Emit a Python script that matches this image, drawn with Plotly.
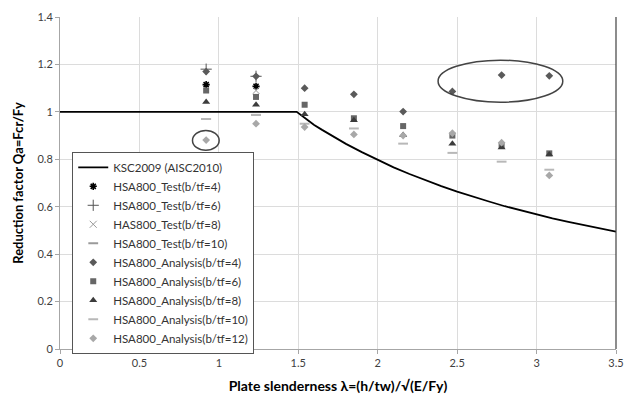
import plotly.graph_objects as go

# Design curve KSC2009 (AISC2010)
curve_x = [0, 1.49, 1.55, 1.6, 1.65, 1.7, 1.8, 1.9, 2.0, 2.1, 2.2, 2.3, 2.4, 2.5, 2.6, 2.7, 2.8, 2.9, 3.0, 3.1, 3.2, 3.3, 3.4, 3.5]
curve_y = [1.0, 1.0, 0.970, 0.945, 0.924, 0.904, 0.865, 0.830, 0.797, 0.766, 0.738, 0.711, 0.687, 0.664, 0.642, 0.622, 0.602, 0.584, 0.567, 0.551, 0.536, 0.522, 0.508, 0.495]

# Test results
test4_x = [0.92, 1.234]
test4_y = [1.115, 1.108]
test6_x = [0.92, 1.234]
test6_y = [1.18, 1.15]
test8_x = [1.234]
test8_y = [1.09]
test10_x = [0.92, 1.234]
test10_y = [0.97, 0.987]

# Analysis results
ana_x = [0.92, 1.234, 1.54, 1.85, 2.16, 2.47, 2.78, 3.08]
ana4_y = [1.17, 1.15, 1.10, 1.074, 1.001, 1.086, 1.155, 1.152]
ana6_y = [1.09, 1.063, 1.03, 0.973, 0.94, 0.90, 0.856, 0.825]
ana8_y = [1.042, 1.03, 0.99, 0.965, 0.902, 0.866, 0.85, 0.82]
ana10_y = [0.97, 0.987, 0.95, 0.93, 0.866, 0.827, 0.79, 0.756]
ana12_y = [0.881, 0.95, 0.936, 0.905, 0.90, 0.91, 0.87, 0.732]

x_ticks = [0, 0.5, 1, 1.5, 2, 2.5, 3, 3.5]
y_ticks = [0, 0.2, 0.4, 0.6, 0.8, 1, 1.2, 1.4]

FONT = "Lato, 'Open Sans', sans-serif"

fig = go.Figure()
fig.add_trace(go.Scatter(x=curve_x, y=curve_y, mode="lines", name="KSC2009 (AISC2010)",
                         line=dict(color="black", width=1.8)))
fig.add_trace(go.Scatter(x=test4_x, y=test4_y, mode="markers", name="HSA800_Test(b/tf=4)",
                         marker=dict(symbol="asterisk-open", size=6, color="black",
                                     line=dict(color="black", width=1.6))))
fig.add_trace(go.Scatter(x=test6_x, y=test6_y, mode="markers", name="HSA800_Test(b/tf=6)",
                         marker=dict(symbol="cross-thin-open", size=8, color="#555555",
                                     line=dict(color="#555555", width=1))))
fig.add_trace(go.Scatter(x=test8_x, y=test8_y, mode="markers", name="HAS800_Test(b/tf=8)",
                         marker=dict(symbol="x-thin-open", size=7, color="#999999",
                                     line=dict(color="#999999", width=1))))
fig.add_trace(go.Scatter(x=test10_x, y=test10_y, mode="markers", name="HSA800_Test(b/tf=10)",
                         marker=dict(symbol="line-ew-open", size=7, color="#9a9a9a",
                                     line=dict(color="#9a9a9a", width=2))))
fig.add_trace(go.Scatter(x=ana_x, y=ana4_y, mode="markers", name="HSA800_Analysis(b/tf=4)",
                         marker=dict(symbol="diamond", size=6, color="#5a5a5a")))
fig.add_trace(go.Scatter(x=ana_x, y=ana6_y, mode="markers", name="HSA800_Analysis(b/tf=6)",
                         marker=dict(symbol="square", size=6, color="#666666")))
fig.add_trace(go.Scatter(x=ana_x, y=ana8_y, mode="markers", name="HSA800_Analysis(b/tf=8)",
                         marker=dict(symbol="triangle-up", size=7, color="#3c3c3c")))
fig.add_trace(go.Scatter(x=ana_x, y=ana10_y, mode="markers", name="HSA800_Analysis(b/tf=10)",
                         marker=dict(symbol="line-ew-open", size=7, color="#b8b8b8",
                                     line=dict(color="#b8b8b8", width=2))))
fig.add_trace(go.Scatter(x=ana_x, y=ana12_y, mode="markers", name="HSA800_Analysis(b/tf=12)",
                         marker=dict(symbol="diamond", size=6, color="#a8a8a8")))

# highlight ellipses
fig.add_shape(type="circle", xref="x", yref="y", x0=0.834, x1=1.002, y0=0.838, y1=0.921,
              line=dict(color="#444444", width=1.5))
fig.add_shape(type="circle", xref="x", yref="y", x0=2.38, x1=3.165, y0=1.041, y1=1.218,
              line=dict(color="#444444", width=1.5))
# right border of plot area
fig.add_shape(type="line", xref="paper", yref="paper", x0=1, x1=1, y0=0, y1=1,
              line=dict(color="#404040", width=1.2))

fig.update_layout(
    width=637, height=405,
    margin=dict(l=60, r=21, t=10, b=56),
    paper_bgcolor="white", plot_bgcolor="white",
    font=dict(family=FONT, size=11, color="#404040"),
    showlegend=True,
    legend=dict(x=0.022, y=0.594, xanchor="left", yanchor="top",
                bgcolor="white", bordercolor="#555555", borderwidth=1,
                font=dict(family=FONT, size=11.5, color="#333333"),
                tracegroupgap=0, itemwidth=30),
    xaxis=dict(range=[0, 3.5], tickvals=x_ticks, ticktext=[f"{v:g}" for v in x_ticks],
               showgrid=True, gridcolor="#dcdcdc", gridwidth=1,
               showline=True, linecolor="#a6a6a6", linewidth=1,
               ticks="outside", ticklen=4, tickcolor="#a6a6a6",
               zeroline=False,
               tickfont=dict(family=FONT, size=11, color="#404040"),
               title=dict(text="<b>Plate slenderness λ=(h/tw)/√(E/Fy)</b>",
                          font=dict(family=FONT, size=14, color="#000000"), standoff=12)),
    yaxis=dict(range=[0, 1.4], tickvals=y_ticks, ticktext=[f"{v:g}" for v in y_ticks],
               showgrid=True, gridcolor="#dcdcdc", gridwidth=1,
               showline=True, linecolor="#a6a6a6", linewidth=1,
               ticks="outside", ticklen=4, tickcolor="#a6a6a6",
               zeroline=False,
               tickfont=dict(family=FONT, size=11, color="#404040"),
               title=dict(text="<b>Reduction factor Qa=Fcr/Fy</b>",
                          font=dict(family=FONT, size=13, color="#000000"), standoff=10)),
)

fig.write_html("out.html")
